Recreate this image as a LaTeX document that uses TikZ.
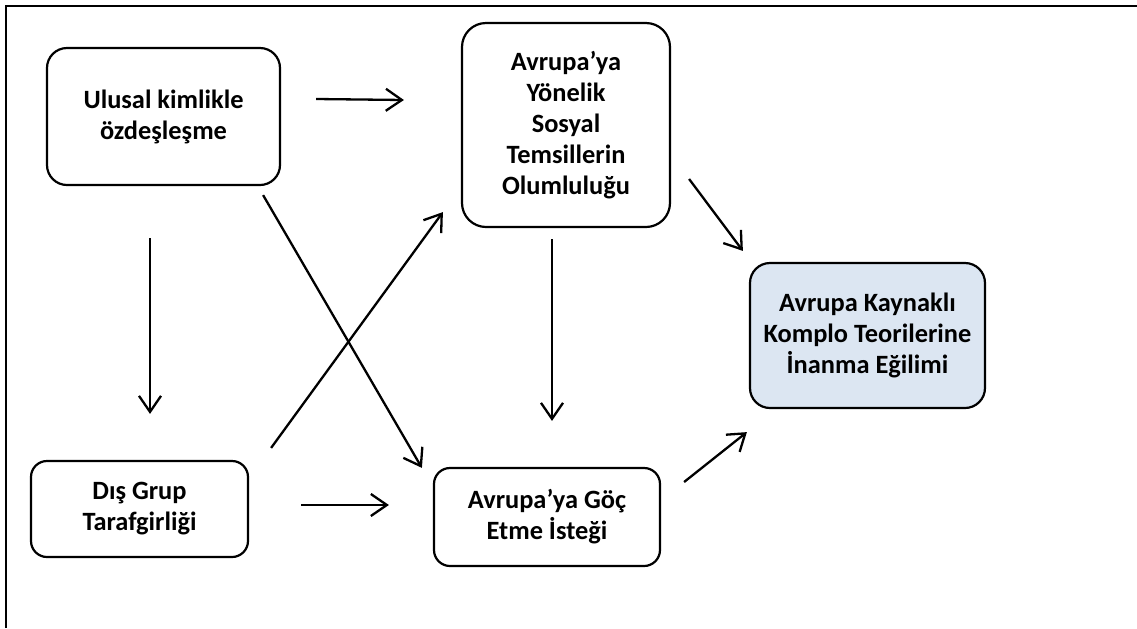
\documentclass[tikz,border=0pt]{standalone}
\usepackage{fontspec}
\setmainfont{Carlito}
\usetikzlibrary{arrows.meta,calc}
\tikzset{%
  font=\fontsize{13.2}{15.5}\selectfont\bfseries,
  >={Straight Barb[length=8pt,width=11pt]},
  box/.style={draw,line width=1.1pt,rounded corners=10pt,align=center,inner sep=0pt},
  arr/.style={draw,line width=1.15pt,->}
}
\definecolor{paleblue}{HTML}{DCE6F2}

\begin{document}
\begin{tikzpicture}[x=0.5pt,y=-0.5pt]
	% frame and size
	\useasboundingbox (0,0) rectangle (1137,628);
	\draw[line width=1.3pt] (6,628) -- (6,6) -- (1137,6);

	\node[box,minimum width=116.5pt,minimum height=68.5pt] (ulusal) at (163.5,116.5)
		{Ulusal kimlikle\\özdeşleşme};
	\node[box,minimum width=104pt,minimum height=102pt,rounded corners=12pt] (temsil) at (566,125)
		{Avrupa’ya\\Yönelik\\Sosyal\\Temsillerin\\Olumluluğu};
	\node[box,fill=paleblue,minimum width=117.5pt,minimum height=72.5pt] (komplo) at (867.5,335.5)
		{Avrupa Kaynaklı\\Komplo Teorilerine\\İnanma Eğilimi};
	\node[box,minimum width=108.5pt,minimum height=48pt,rounded corners=8pt] (disgrup) at (139.5,509)
		{Dış Grup\\Tarafgirliği};
	\node[box,minimum width=113pt,minimum height=49pt,rounded corners=8pt] (goc) at (547,517)
		{Avrupa’ya Göç\\Etme İsteği};

	% paths
	\draw[arr] ([shift={(35,-17.5)}]ulusal.east) -- ([shift={(-57,-25)}]temsil.west);
	\draw[arr] ([shift={(-13.5,52)}]ulusal.south) -- ([shift={(10.5,-46)}]disgrup.north);
	\draw[arr] ([shift={(-18,9)}]ulusal.south east) -- ([shift={(-11,1)}]goc.north west);
	\draw[arr] ([shift={(22,-12)}]disgrup.north east) -- ([shift={(-18,-16)}]temsil.south west);
	\draw[arr] ([shift={(-14,11)}]temsil.south) -- ([shift={(5,-46)}]goc.north);
	\draw[arr] ([shift={(52,-4)}]disgrup.east) -- ([shift={(-44,-12)}]goc.west);
	\draw[arr] ([shift={(18,54)}]temsil.east) -- ([shift={(-6,-11)}]komplo.north west);
	\draw[arr] ([shift={(23,-35)}]goc.east) -- ([shift={(-2,23)}]komplo.south west);
\end{tikzpicture}
\end{document}
